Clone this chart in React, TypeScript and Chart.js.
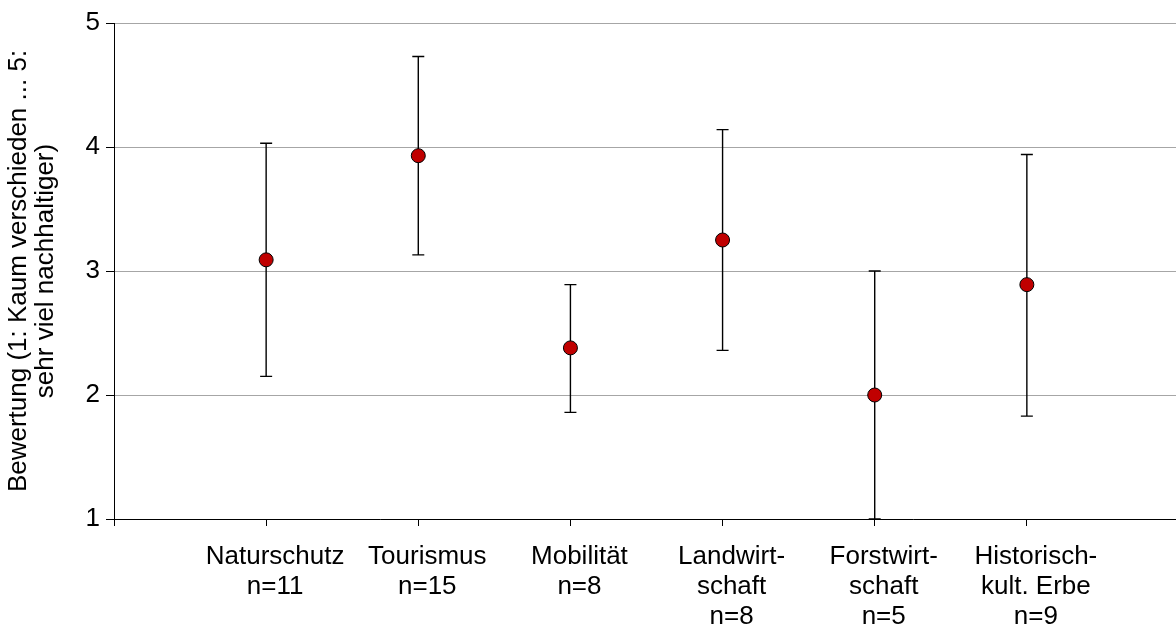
import React, { useEffect, useRef } from "react";
import { Chart, registerables } from "chart.js";

Chart.register(...registerables);

// ---- data ----
const categoryLabels: string[][] = [
  ["Naturschutz", "n=11"],
  ["Tourismus", "n=15"],
  ["Mobilität", "n=8"],
  ["Landwirt-", "schaft", "n=8"],
  ["Forstwirt-", "schaft", "n=5"],
  ["Historisch-", "kult. Erbe", "n=9"],
];
const positions = [1, 2, 3, 4, 5, 6];
const means = [3.09, 3.93, 2.38, 3.25, 2.0, 2.89];
const upperValues = [4.03, 4.73, 2.89, 4.14, 3.0, 3.94];
const lowerValues = [2.15, 3.13, 1.86, 2.36, 1.0, 1.83];
const yTitle = ["Bewertung (1: Kaum verschieden ... 5:", "sehr viel nachhaltiger)"];

const FONT = "'Liberation Sans', Arial, sans-serif";

const errorBarPlugin = {
  id: "errorBars",
  beforeDatasetsDraw(chart: any) {
    const { ctx, scales } = chart;
    const x = scales.x;
    const y = scales.y;
    ctx.save();
    ctx.strokeStyle = "#000";
    ctx.lineWidth = 1.4;
    positions.forEach((p, i) => {
      const px = x.getPixelForValue(p);
      const yt = y.getPixelForValue(upperValues[i]);
      const yb = y.getPixelForValue(lowerValues[i]);
      ctx.beginPath();
      ctx.moveTo(px, yt);
      ctx.lineTo(px, yb);
      ctx.moveTo(px - 6, yt);
      ctx.lineTo(px + 6, yt);
      ctx.moveTo(px - 6, yb);
      ctx.lineTo(px + 6, yb);
      ctx.stroke();
    });
    ctx.restore();
  },
};

export default function App() {
  const ref = useRef<HTMLCanvasElement>(null);
  useEffect(() => {
    document.body.style.margin = "0";
    const canvas = ref.current!;
    const chart = new Chart(canvas, {
      type: "scatter",
      data: {
        datasets: [
          {
            data: positions.map((p, i) => ({ x: p, y: means[i] })),
            backgroundColor: "#C00000",
            borderColor: "#000",
            borderWidth: 1,
            pointRadius: 7,
            pointHoverRadius: 7,
          },
        ],
      },
      options: {
        animation: false,
        responsive: false,
        devicePixelRatio: 1,
        layout: { autoPadding: false, padding: { top: 23, left: 0, right: 0, bottom: 0 } },
        plugins: { legend: { display: false }, tooltip: { enabled: false } },
        scales: {
          x: {
            type: "linear",
            min: 0,
            max: 7,
            afterFit: (s: any) => {
              s.height = 109;
            },
            afterBuildTicks: (s: any) => {
              s.ticks = [0, 1, 2, 3, 4, 5, 6, 7].map((v) => ({ value: v }));
            },
            grid: {
              drawOnChartArea: false,
              tickLength: 7,
              tickColor: "#000",
            },
            border: { color: "#000", width: 1 },
            ticks: {
              autoSkip: false,
              maxRotation: 0,
              padding: 16,
              labelOffset: 9,
              color: "#000",
              font: { family: FONT, size: 26, lineHeight: "30px" },
              callback: (v: any) => {
                const idx = positions.indexOf(Number(v));
                return idx >= 0 ? categoryLabels[idx] : "";
              },
            },
          },
          y: {
            min: 1,
            max: 5,
            afterFit: (s: any) => {
              s.width = 114;
            },
            grid: {
              color: "#a6a6a6",
              lineWidth: 1,
              tickLength: 8,
              tickColor: "#000",
            },
            border: { color: "#000", width: 1 },
            ticks: {
              stepSize: 1,
              padding: 6,
              color: "#000",
              font: { family: FONT, size: 26 },
            },
            title: {
              display: true,
              text: yTitle,
              color: "#000",
              font: { family: FONT, size: 26, lineHeight: "27px" },
              padding: { top: 5, bottom: 0 },
            },
          },
        },
      },
      plugins: [errorBarPlugin],
    });
    return () => chart.destroy();
  }, []);
  return (
    <div style={{ width: 1176, height: 628, overflow: "hidden", position: "relative" }}>
      <canvas ref={ref} width={1195} height={628} style={{ width: 1195, height: 628, display: "block" }} />
    </div>
  );
}
